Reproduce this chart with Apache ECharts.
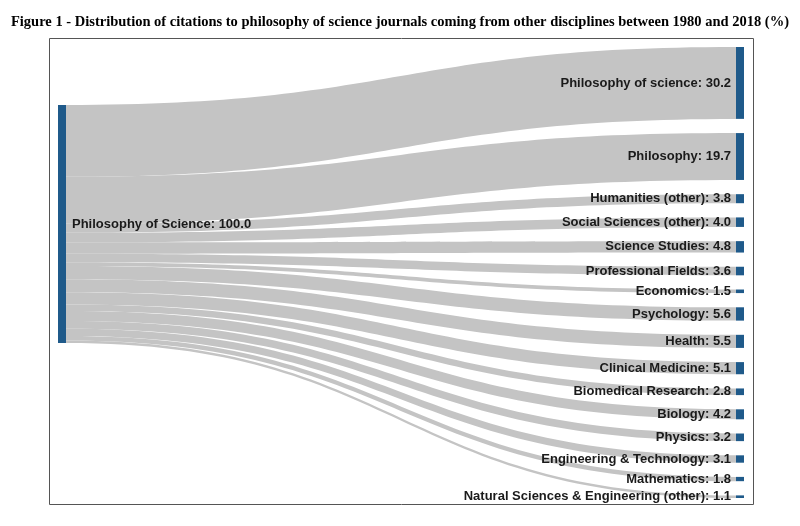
<!DOCTYPE html>
<html>
<head>
<meta charset="utf-8">
<title>Sankey</title>
<script src="https://cdn.jsdelivr.net/npm/echarts@6/dist/echarts.min.js"></script>
<style>
  html, body { margin: 0; padding: 0; background: #fff; }
  #main { width: 800px; height: 526px; }
</style>
</head>
<body>
<div id="main"></div>
<script>
// data
var sourceName = 'Philosophy of Science';
var targets = ['Philosophy of science', 'Philosophy', 'Humanities (other)', 'Social Sciences (other)',
    'Science Studies', 'Professional Fields', 'Economics', 'Psychology', 'Health',
    'Clinical Medicine', 'Biomedical Research', 'Biology', 'Physics',
    'Engineering & Technology', 'Mathematics', 'Natural Sciences & Engineering (other)'];
var shares = [30.2, 19.7, 3.8, 4.0, 4.8, 3.6, 1.5, 5.6, 5.5, 5.1, 2.8, 4.2, 3.2, 3.1, 1.8, 1.1];

var nodes = [{
    name: sourceName,
    localY: 0.1286,
    label: { position: 'right', distance: 6 }
}];
var links = [];
for (var i = 0; i < targets.length; i++) {
    nodes.push({ name: targets[i] });
    links.push({ source: sourceName, target: targets[i], value: shares[i] });
}

var myChart = echarts.init(document.getElementById('main'));
var option = {
    animation: false,
    title: {
        text: 'Figure 1 - Distribution of citations to philosophy of science journals coming from other disciplines between 1980 and 2018 (%)',
        left: 'center',
        top: 10,
        textStyle: {
            fontFamily: 'Liberation Serif',
            fontWeight: 'bold',
            fontSize: 14.5,
            color: '#000'
        }
    },
    graphic: [{
        type: 'rect',
        shape: { x: 49.5, y: 38.5, width: 704, height: 466 },
        style: { fill: 'none', stroke: '#555', lineWidth: 1 },
        silent: true
    }],
    series: [{
        type: 'sankey',
        left: 58,
        right: 56,
        top: 47,
        bottom: 28,
        nodeWidth: 8,
        nodeGap: 14.2,
        layoutIterations: 0,
        draggable: false,
        data: nodes,
        links: links,
        itemStyle: { color: '#1f5a8a', borderWidth: 0 },
        lineStyle: { color: '#c4c4c4', opacity: 1, curveness: 0.5 },
        label: {
            position: 'left',
            distance: 5,
            fontFamily: 'Liberation Sans',
            fontWeight: 'bold',
            fontSize: 13,
            color: '#1a1a1a',
            formatter: function (p) {
                return p.name + ': ' + p.value.toFixed(1);
            }
        },
        emphasis: { disabled: true }
    }]
};
myChart.setOption(option);
</script>
</body>
</html>
